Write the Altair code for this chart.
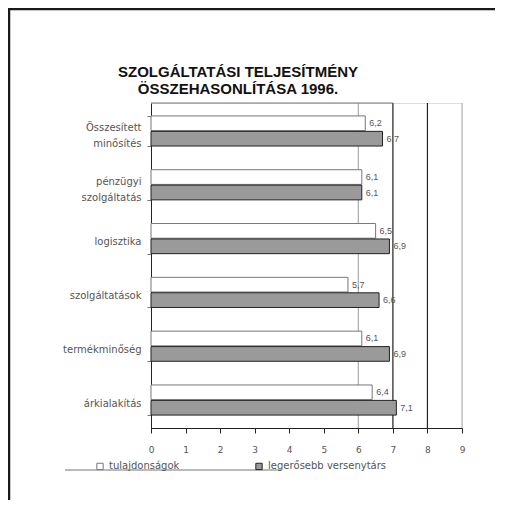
import altair as alt
import pandas as pd

categories = ["Összesített\nminősítés", "pénzügyi\nszolgáltatás", "logisztika",
              "szolgáltatások", "termékminőség", "árkialakítás"]
series_names = ["tulajdonságok", "legerősebb versenytárs"]
own_values = [6.2, 6.1, 6.5, 5.7, 6.1, 6.4]
competitor_values = [6.7, 6.1, 6.9, 6.6, 6.9, 7.1]
x_ticks = [0, 1, 2, 3, 4, 5, 6, 7, 8, 9]
grid_values = [6, 7, 8, 9]
grid_colors = ["#aaaaaa", "#222222", "#222222", "#bbbbbb"]
title_lines = ["SZOLGÁLTATÁSI TELJESÍTMÉNY", "ÖSSZEHASONLÍTÁSA 1996."]

rows = []
for c, a, b in zip(categories, own_values, competitor_values):
    rows.append({"cat": c, "series": series_names[0], "value": a,
                 "label": f"{a:.1f}".replace(".", ",")})
    rows.append({"cat": c, "series": series_names[1], "value": b,
                 "label": f"{b:.1f}".replace(".", ",")})
df = pd.DataFrame(rows)
grid_df = pd.DataFrame({"x": grid_values, "col": grid_colors})

xscale = alt.Scale(domain=[0, 9], nice=False, zero=True)
yscale = alt.Scale(domain=categories, paddingInner=0.44, paddingOuter=0.24)
yoff = alt.YOffset("series:N", scale=alt.Scale(domain=series_names, paddingInner=0.05))

y_axis = alt.Axis(title=None, labelExpr="split(datum.label, '\\n')",
                  labelFont="DejaVu Sans", labelFontSize=10,
                  labelColor="#555555", labelPadding=6,
                  labelLineHeight=16,
                  labelOffset={"condition": {"test": "indexof(datum.label, '\\n') >= 0",
                                             "value": -3}, "value": 3},
                  domainColor="#222222", tickColor="#777777",
                  tickSize=4, tickBand="extent", grid=False)
x_axis = alt.Axis(title=None, values=x_ticks, format="d",
                  labelOverlap=False, labelFlush=False, tickCount=10,
                  labelFont="DejaVu Sans", labelFontSize=9,
                  labelColor="#555555", labelPadding=12,
                  domainColor="#222222", tickColor="#222222",
                  tickSize=5, grid=False)

grid = alt.Chart(grid_df).mark_rule(strokeWidth=1.2).encode(
    x=alt.X("x:Q", scale=xscale, axis=x_axis),
    color=alt.Color("col:N", scale=None),
)

top_line = alt.Chart(pd.DataFrame({"a": [0], "b": [7]})).mark_rule(
    color="#777777", strokeWidth=1).encode(
    x=alt.X("a:Q", scale=xscale, axis=x_axis), x2="b:Q", y=alt.value(0))

bars = alt.Chart(df).mark_bar(strokeWidth=1).encode(
    x=alt.X("value:Q", scale=xscale, axis=x_axis),
    y=alt.Y("cat:N", scale=yscale, sort=categories, axis=y_axis),
    yOffset=yoff,
    fill=alt.Fill("series:N", scale=alt.Scale(domain=series_names,
                                               range=["#ffffff", "#9a9a9a"]),
                  legend=alt.Legend(title=None, orient="none", direction="horizontal",
                                    legendX=-56, legendY=358, symbolType="square",
                                    symbolSize=40, symbolStrokeColor="#333333",
                                    symbolStrokeWidth=1, labelFont="DejaVu Sans",
                                    labelFontSize=10, labelColor="#555555",
                                    columnPadding=73, padding=0, labelOffset=4)),
    stroke=alt.Stroke("series:N", scale=alt.Scale(domain=series_names,
                                                   range=["#777777", "#222222"]),
                      legend=None),
)

labels = alt.Chart(df).mark_text(align="left", baseline="middle", dx=4,
                                 font="Liberation Sans", fontSize=9,
                                 color="#555555").encode(
    x=alt.X("value:Q", scale=xscale, axis=x_axis),
    y=alt.Y("cat:N", scale=yscale, sort=categories, axis=y_axis),
    yOffset=yoff,
    text="label:N",
)

legend_line = alt.Chart(pd.DataFrame({"a": [0]})).mark_rule(
    color="#777777", strokeWidth=1).encode(
    x=alt.value(-86), x2=alt.value(130), y=alt.value(367))

frame_top = alt.Chart(pd.DataFrame({"a": [0]})).mark_rule(
    color="#1a1a1a", strokeWidth=2.5).encode(
    x=alt.value(-143), x2=alt.value(344), y=alt.value(-94))

frame_left = alt.Chart(pd.DataFrame({"a": [0]})).mark_rule(
    color="#1a1a1a", strokeWidth=2.5).encode(
    x=alt.value(-142), y=alt.value(-95), y2=alt.value(397))

title1 = alt.Chart(pd.DataFrame({"t": [title_lines[0]]})).mark_text(
    font="Liberation Sans", fontSize=15, fontWeight="bold", color="#111111",
    align="center", baseline="middle").encode(
    text="t:N", x=alt.value(87), y=alt.value(-31))

title2 = alt.Chart(pd.DataFrame({"t": [title_lines[1]]})).mark_text(
    font="Liberation Sans", fontSize=15, fontWeight="bold", color="#111111",
    align="center", baseline="middle").encode(
    text="t:N", x=alt.value(87), y=alt.value(-14))

chart = alt.layer(grid, top_line, bars, labels, legend_line, frame_top, frame_left,
                  title1, title2).properties(
    width=311,
    height=325,
    autosize=alt.AutoSizeParams(type="none"),
    padding={"left": 143, "top": 95, "right": 33, "bottom": 72},
).configure_view(stroke=None).configure(background="white")

chart.save("out.html", embed_options={"renderer": "svg", "actions": False})
